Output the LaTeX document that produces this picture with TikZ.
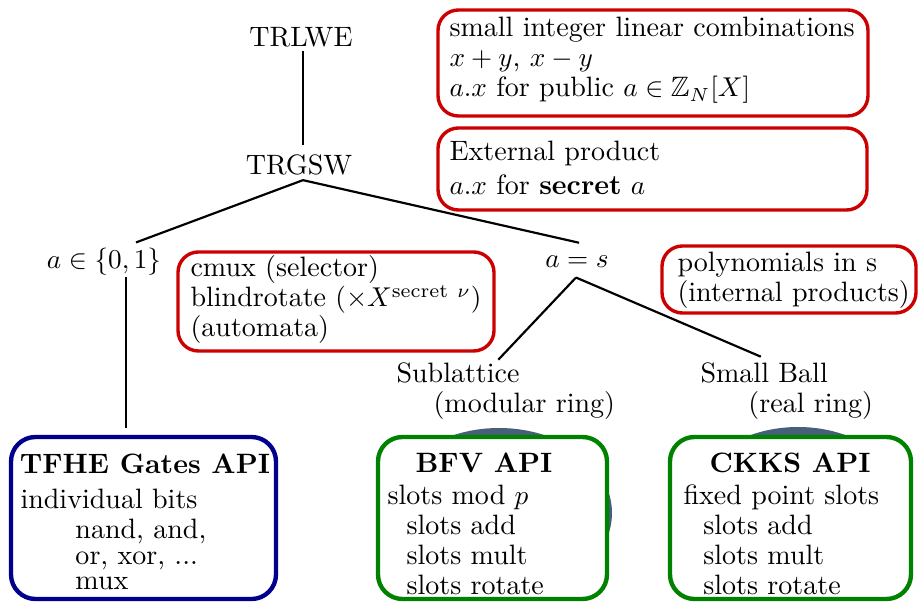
\documentclass[tikz,border=0pt]{standalone}
\usepackage{amsmath,amssymb}
\usetikzlibrary{fit,calc}
\definecolor{boxred}{RGB}{204,0,0}
\definecolor{boxblue}{RGB}{0,0,140}
\definecolor{boxgreen}{RGB}{0,130,0}
\definecolor{ballcol}{RGB}{70,96,122}
\begin{document}
\begin{tikzpicture}[x=0.3676pt,y=-0.3676pt,
  txt/.style={inner sep=0pt, font=\fontsize{10.3}{11.03}\selectfont},
  lbl/.style={txt, anchor=base},
  body/.style={txt, align=left, anchor=base west},
  redbox/.style={draw=boxred, line width=1.25pt, rounded corners=7.5pt, inner sep=0pt},
  apibox/.style={draw=#1, line width=1.6pt, rounded corners=9pt, inner sep=0pt, fill=white},
  treeedge/.style={line width=0.8pt}]
\useasboundingbox (0,0) rectangle (920,603);
\clip (0,0) rectangle (920,603);
% background balls behind the API boxes
\fill[ballcol] (499,513) ellipse [x radius=113, y radius=85];
\fill[ballcol] (798,513) ellipse [x radius=112, y radius=86];
% tree labels (multi-line nodes are placed by the baseline of their last line)
\node[lbl] (trlwe) at (301,47) {TRLWE};
\node[lbl] (trgsw) at (299,175) {TRGSW};
\node[lbl] (a01) at (104,269) {$a\in\{0,1\}$};
\node[lbl] (as) at (577,268) {$a=s$};
\node[body] (sub) at (396,413) {Sublattice\\\hspace*{13.6pt}(modular ring)};
\node[body] (sball) at (700,413) {Small Ball\\\hspace*{17.6pt}(real ring)};
% red annotation boxes
\node[redbox, fit={(438,10) (868,116)}] (r1) {};
\node[body] (r1t) at (449,97) {small integer linear combinations\\ $x+y$, $x-y$\\ $a.x$ for public $a\in\mathbb{Z}_N[X]$};
\node[redbox, fit={(438,128) (867,210)}] (r2) {};
\node[body] (r2t) at (449,195) {External product\\[1.5pt] $a.x$ for \textbf{secret} $a$};
\node[redbox, fit={(178,252) (494,351)}] (r3) {};
\node[body] (r3t) at (190,337) {cmux (selector)\\ blindrotate $(\times X^{\text{secret}\ \nu})$\\ (automata)};
\node[redbox, fit={(662,246) (916,313)}] (r4) {};
\node[body] (r4t) at (677,302) {polynomials in s\\ (internal products)};
% API boxes
\node[apibox=boxblue, fit={(11,437) (276,599)}] (tfhe) {};
\node[lbl] (tfheh) at (145,474) {\textbf{TFHE Gates API}};
\node[body] (tfheb) at (20,590) {individual bits\\ \hspace*{20.2pt}nand, and,\\[-1.5pt] \hspace*{20.2pt}or, xor, ...\\[-1.8pt] \hspace*{20.2pt}mux};
\node[apibox=boxgreen, fit={(378,437) (607,599)}] (bfv) {};
\node[lbl] (bfvh) at (484,473) {\textbf{BFV API}};
\node[body] (bfvb) at (387,595) {slots mod $p$\\ \hspace*{7pt}slots add\\ \hspace*{7pt}slots mult\\ \hspace*{7pt}slots rotate};
\node[apibox=boxgreen, fit={(670,437) (911,599)}] (ckks) {};
\node[lbl] (ckksh) at (790,473) {\textbf{CKKS API}};
\node[body] (ckksb) at (683,595) {fixed point slots\\ \hspace*{7.3pt}slots add\\ \hspace*{7.3pt}slots mult\\ \hspace*{7.3pt}slots rotate};
% tree edges
\draw[treeedge] ([shift={(2,3)}]trlwe.south) -- ([shift={(4,-9.4)}]trgsw.north);
\draw[treeedge] ([shift={(4,4)}]trgsw.south) -- ([shift={(32,-5.6)}]a01.north);
\draw[treeedge] ([shift={(4,4)}]trgsw.south) -- ([shift={(2,-13)}]as.north);
\draw[treeedge] ([shift={(22,1)}]a01.south) -- ([shift={(-17.5,-7)}]tfhe.north);
\draw[treeedge] ([shift={(-1,9)}]as.south) -- ([shift={(-7.5,-3)}]sub.north);
\draw[treeedge] ([shift={(-1,9)}]as.south) -- ([shift={(-26,-6)}]sball.north);
\end{tikzpicture}
\end{document}
